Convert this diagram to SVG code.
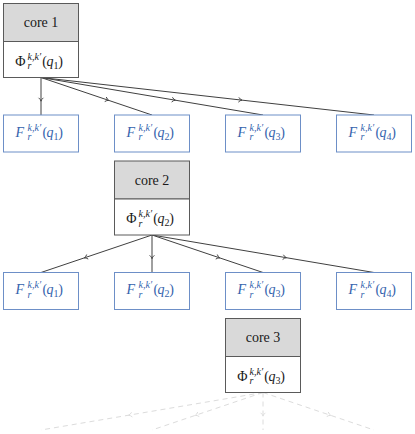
<svg xmlns="http://www.w3.org/2000/svg" width="415" height="434" viewBox="0 0 415 434">
<defs>
<style>
.cg{fill:#d9d9d9;stroke:#5a5a5a;stroke-width:1}
.cw{fill:#ffffff;stroke:#5a5a5a;stroke-width:1}
.fb{fill:#ffffff;stroke:#6d8fc7;stroke-width:1}
text{font-family:'Liberation Serif','Times New Roman',serif}
.t{font-size:14px;fill:#1a1a1a}
.ft{font-size:14px;fill:#3563ad}
.i{font-style:italic}
.s{font-size:10px}
.e{fill:none;stroke:#404040;stroke-width:1;marker-mid:url(#ma)}
.d{fill:none;stroke:#dcdcdc;stroke-width:1;stroke-dasharray:5 4;marker-mid:url(#md)}
</style>
<marker id="ma" viewBox="-4 -4 8 8" markerWidth="8" markerHeight="8" refX="0" refY="0" orient="auto" markerUnits="userSpaceOnUse">
<path d="M-2.2,-2.4 Q-0.6,-0.4 1.2,0 Q-0.6,0.4 -2.2,2.4" fill="none" stroke="#404040" stroke-width="0.9"/>
</marker>
<marker id="md" viewBox="-4 -4 8 8" markerWidth="8" markerHeight="8" refX="0" refY="0" orient="auto" markerUnits="userSpaceOnUse">
<path d="M-2.2,-2.4 Q-0.6,-0.4 1.2,0 Q-0.6,0.4 -2.2,2.4" fill="none" stroke="#dcdcdc" stroke-width="0.9"/>
</marker>
</defs>

<g id="connectors">
<path class="e" d="M41,77.5 L41,100 L41,115"/>
<path class="e" d="M41,77.5 L107.6,100 L152,115"/>
<path class="e" d="M41,77.5 L174.2,100 L263,115"/>
<path class="e" d="M41,77.5 L240.8,100 L374,115"/>
<path class="e" d="M152,235 L85.4,257.5 L41,272.5"/>
<path class="e" d="M152,235 L152,257.5 L152,272.5"/>
<path class="e" d="M152,235 L218.6,257.5 L263,272.5"/>
<path class="e" d="M152,235 L285.2,257.5 L374,272.5"/>
<path class="d" d="M263,392.5 L129.8,415 L41,430"/>
<path class="d" d="M263,392.5 L196.4,415 L152,430"/>
<path class="d" d="M263,392.5 L263,415 L263,430"/>
<path class="d" d="M263,392.5 L329.6,415 L374,430"/>
</g>

<g id="core1">
<rect class="cg" x="3.5" y="3.5" width="75" height="38"/>
<rect class="cw" x="3.5" y="41.5" width="75" height="36"/>
<text class="t" x="41" y="27" text-anchor="middle">core 1</text>
<text class="t" y="65.5"><tspan x="15.3">Φ</tspan><tspan class="i s" x="27.5" y="59.5">k,k′</tspan><tspan class="i s" x="27.5" y="69">r</tspan><tspan x="42.3" y="65.5">(</tspan><tspan class="i" x="46.5">q</tspan><tspan class="s" x="53.5" y="68.5">1</tspan><tspan x="58.3" y="65.5">)</tspan></text>
</g>

<g id="f1_1">
<rect class="fb" x="3.5" y="115" width="75" height="37"/>
<text class="ft" y="136.8"><tspan class="i" x="15.5">F</tspan><tspan class="i s" x="27.5" y="130.8">k,k′</tspan><tspan class="i s" x="27.5" y="140.3">r</tspan><tspan x="42.5" y="136.8">(</tspan><tspan class="i" x="46.5">q</tspan><tspan class="s" x="53.5" y="139.8">1</tspan><tspan x="58.3" y="136.8">)</tspan></text>
</g>
<g id="f1_2">
<rect class="fb" x="114.5" y="115" width="75" height="37"/>
<text class="ft" y="136.8"><tspan class="i" x="126.5">F</tspan><tspan class="i s" x="138.5" y="130.8">k,k′</tspan><tspan class="i s" x="138.5" y="140.3">r</tspan><tspan x="153.5" y="136.8">(</tspan><tspan class="i" x="157.5">q</tspan><tspan class="s" x="164.5" y="139.8">2</tspan><tspan x="169.3" y="136.8">)</tspan></text>
</g>
<g id="f1_3">
<rect class="fb" x="225.5" y="115" width="75" height="37"/>
<text class="ft" y="136.8"><tspan class="i" x="237.5">F</tspan><tspan class="i s" x="249.5" y="130.8">k,k′</tspan><tspan class="i s" x="249.5" y="140.3">r</tspan><tspan x="264.5" y="136.8">(</tspan><tspan class="i" x="268.5">q</tspan><tspan class="s" x="275.5" y="139.8">3</tspan><tspan x="280.3" y="136.8">)</tspan></text>
</g>
<g id="f1_4">
<rect class="fb" x="336.5" y="115" width="75" height="37"/>
<text class="ft" y="136.8"><tspan class="i" x="348.5">F</tspan><tspan class="i s" x="360.5" y="130.8">k,k′</tspan><tspan class="i s" x="360.5" y="140.3">r</tspan><tspan x="375.5" y="136.8">(</tspan><tspan class="i" x="379.5">q</tspan><tspan class="s" x="386.5" y="139.8">4</tspan><tspan x="391.3" y="136.8">)</tspan></text>
</g>

<g id="core2">
<rect class="cg" x="114.5" y="161" width="75" height="38"/>
<rect class="cw" x="114.5" y="199" width="75" height="36"/>
<text class="t" x="152" y="184.5" text-anchor="middle">core 2</text>
<text class="t" y="223"><tspan x="126.3">Φ</tspan><tspan class="i s" x="138.5" y="217">k,k′</tspan><tspan class="i s" x="138.5" y="226.5">r</tspan><tspan x="153.3" y="223">(</tspan><tspan class="i" x="157.5">q</tspan><tspan class="s" x="164.5" y="226">2</tspan><tspan x="169.3" y="223">)</tspan></text>
</g>

<g id="f2_1">
<rect class="fb" x="3.5" y="272.5" width="75" height="37"/>
<text class="ft" y="294.3"><tspan class="i" x="15.5">F</tspan><tspan class="i s" x="27.5" y="288.3">k,k′</tspan><tspan class="i s" x="27.5" y="297.8">r</tspan><tspan x="42.5" y="294.3">(</tspan><tspan class="i" x="46.5">q</tspan><tspan class="s" x="53.5" y="297.3">1</tspan><tspan x="58.3" y="294.3">)</tspan></text>
</g>
<g id="f2_2">
<rect class="fb" x="114.5" y="272.5" width="75" height="37"/>
<text class="ft" y="294.3"><tspan class="i" x="126.5">F</tspan><tspan class="i s" x="138.5" y="288.3">k,k′</tspan><tspan class="i s" x="138.5" y="297.8">r</tspan><tspan x="153.5" y="294.3">(</tspan><tspan class="i" x="157.5">q</tspan><tspan class="s" x="164.5" y="297.3">2</tspan><tspan x="169.3" y="294.3">)</tspan></text>
</g>
<g id="f2_3">
<rect class="fb" x="225.5" y="272.5" width="75" height="37"/>
<text class="ft" y="294.3"><tspan class="i" x="237.5">F</tspan><tspan class="i s" x="249.5" y="288.3">k,k′</tspan><tspan class="i s" x="249.5" y="297.8">r</tspan><tspan x="264.5" y="294.3">(</tspan><tspan class="i" x="268.5">q</tspan><tspan class="s" x="275.5" y="297.3">3</tspan><tspan x="280.3" y="294.3">)</tspan></text>
</g>
<g id="f2_4">
<rect class="fb" x="336.5" y="272.5" width="75" height="37"/>
<text class="ft" y="294.3"><tspan class="i" x="348.5">F</tspan><tspan class="i s" x="360.5" y="288.3">k,k′</tspan><tspan class="i s" x="360.5" y="297.8">r</tspan><tspan x="375.5" y="294.3">(</tspan><tspan class="i" x="379.5">q</tspan><tspan class="s" x="386.5" y="297.3">4</tspan><tspan x="391.3" y="294.3">)</tspan></text>
</g>

<g id="core3">
<rect class="cg" x="225.5" y="318.5" width="75" height="38"/>
<rect class="cw" x="225.5" y="356.5" width="75" height="36"/>
<text class="t" x="263" y="342" text-anchor="middle">core 3</text>
<text class="t" y="380.5"><tspan x="237.3">Φ</tspan><tspan class="i s" x="249.5" y="374.5">k,k′</tspan><tspan class="i s" x="249.5" y="384">r</tspan><tspan x="264.3" y="380.5">(</tspan><tspan class="i" x="268.5">q</tspan><tspan class="s" x="275.5" y="383.5">3</tspan><tspan x="280.3" y="380.5">)</tspan></text>
</g>
</svg>
